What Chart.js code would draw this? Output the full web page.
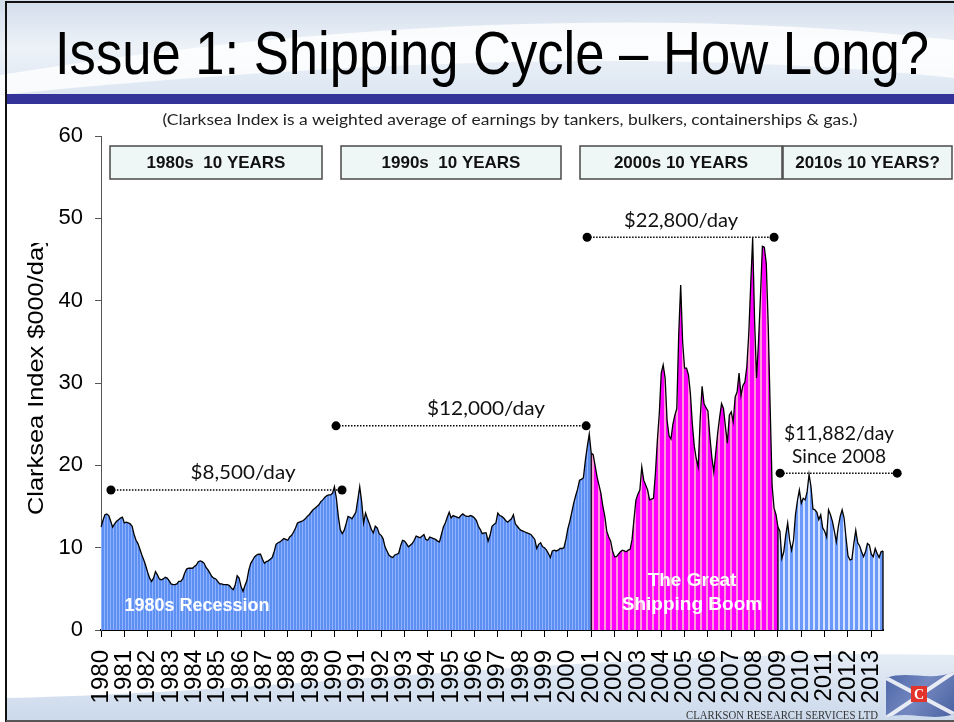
<!DOCTYPE html>
<html>
<head>
<meta charset="utf-8">
<script src="https://cdn.jsdelivr.net/npm/chart.js@4"></script>
<style>
  html, body { margin: 0; padding: 0; background: #fff; }
  #chart { display: block; }
</style>
</head>
<body>
<canvas id="chart" width="954" height="722"></canvas>
<script>
// Clarksea Index, $000/day, monthly from Jan 1980
const years = ['1980','1981','1982','1983','1984','1985','1986','1987','1988','1989',
               '1990','1991','1992','1993','1994','1995','1996','1997','1998','1999',
               '2000','2001','2002','2003','2004','2005','2006','2007','2008','2009',
               '2010','2011','2012','2013'];

const values1980s = [
  12.5,13.3,14.0,14.1,13.9,13.2,12.5,12.9,13.2,13.4,13.6,13.7,
  13.0,13.1,13.0,12.9,12.6,11.6,10.9,10.5,9.8,9.1,8.5,7.8,
  7.0,6.3,5.9,6.3,7.1,6.7,6.2,6.1,6.2,6.4,6.3,6.0,
  5.6,5.5,5.5,5.6,5.9,5.9,6.2,6.9,7.4,7.5,7.5,7.5,
  7.7,7.9,8.3,8.4,8.3,8.1,7.6,7.3,6.9,6.5,6.3,6.2,
  5.9,5.6,5.6,5.5,5.5,5.5,5.4,5.1,4.9,5.5,6.6,6.3,
  5.3,4.7,5.4,6.0,7.3,8.1,8.5,8.9,9.1,9.2,9.2,8.6,
  8.1,8.3,8.4,8.6,8.8,9.5,10.4,10.6,10.7,10.9,11.1,11.0,
  10.9,11.3,11.5,11.9,12.4,13.0,13.1,13.2,13.3,13.5,13.8,14.0,
  14.3,14.6,14.8,15.0,15.2,15.6,15.8,16.1,16.3,16.4,16.4,16.6
];
const values1990s = [
  17.4,16.0,13.8,12.2,11.7,12.1,12.9,13.8,13.7,13.5,13.9,14.3,
  15.8,17.4,15.6,13.0,14.2,13.5,12.9,12.2,11.8,12.6,12.4,11.7,
  11.5,11.1,10.1,9.6,9.1,8.9,8.8,9.1,9.2,9.3,10.2,10.9,
  10.8,10.5,10.1,10.3,10.5,10.9,11.4,11.3,11.2,11.4,11.6,11.0,
  10.9,11.3,11.2,11.1,11.0,10.8,10.7,11.6,12.5,13.0,13.7,14.3,
  13.6,13.9,13.8,13.7,13.6,13.9,14.1,13.9,13.8,13.8,13.9,13.8,
  13.6,13.3,12.6,12.2,11.7,11.8,11.8,10.8,11.5,12.6,12.8,13.0,
  14.2,13.9,13.8,13.6,13.3,13.1,13.3,13.5,14.0,12.9,12.6,12.3,
  12.1,12.0,11.9,11.8,11.7,11.6,11.3,11.0,9.9,10.4,10.6,10.1,
  10.0,9.7,9.3,8.8,9.6,9.7,9.6,9.7,9.9,9.9,10.0,11.0
];
const values2000s = [
  12.3,13.2,14.3,15.4,16.3,17.1,18.2,18.3,18.5,20.6,22.3,23.8,
  21.5,21.3,20.0,18.6,17.6,16.6,15.0,13.8,12.0,11.3,10.8,9.6,
  8.9,8.9,9.2,9.5,9.7,9.6,9.5,9.7,9.8,11.0,13.5,15.8,
  16.5,17.0,19.8,18.2,17.6,17.0,15.8,15.9,16.0,19.0,23.0,26.3,
  31.2,32.2,30.6,25.5,23.6,23.2,25.0,26.1,26.9,36.0,41.9,35.0,
  31.8,31.8,31.0,28.7,25.0,22.3,20.8,19.8,25.5,29.6,27.5,27.0,
  26.6,23.5,21.0,19.2,21.5,23.9,25.8,27.5,26.9,24.7,22.7,26.1,
  26.5,25.3,28.3,28.9,31.2,28.5,29.7,30.1,32.0,36.0,42.0,47.6,
  37.5,30.6,35.0,40.5,46.6,46.5,44.5,37.0,27.0,17.5,14.8,14.0,
  12.5,12.0,8.7,9.5,11.5,13.0,10.9,9.7,10.9,14.0,15.7,17.0
];
const values2010s = [
  15.4,16.0,15.8,16.8,18.9,17.4,14.7,14.6,14.3,13.4,14.0,12.4,
  12.0,11.3,14.6,14.0,13.2,12.0,10.7,12.5,13.8,14.6,13.6,11.2,
  9.0,8.5,8.6,10.5,12.1,10.6,10.2,9.5,8.9,9.5,10.5,10.3,
  9.2,8.9,9.9,9.3,8.8,9.5,9.6
];

const clarksea = [...values1980s, ...values1990s, ...values2000s, ...values2010s];
const monthNames = ['01','02','03','04','05','06','07','08','09','10','11','12'];
const months = years.flatMap(y => monthNames.map(m => y + '-' + m)).slice(0, clarksea.length);

// colour periods (month index where each one starts/ends)
const boomStart = 252;   // Jan 2001
const boomEnd = 348;     // Jan 2009

const decadeBoxes = ['1980s  10 YEARS', '1990s  10 YEARS', '2000s 10 YEARS', '2010s 10 YEARS?'];

// average lines: month index from/to, level in $000/day
const avgLines = [
  { text: ['$8,500/day'], from: 5.1, to: 123.9, level: 17.0, at: 73, width: [105] },
  { text: ['$12,000/day'], from: 120.8, to: 249.4, level: 24.8, at: 197.9, width: [118] },
  { text: ['$22,800/day'], from: 249.9, to: 346, level: 47.7, at: 298.2, width: [114] },
  { text: ['$11,882/day', 'Since 2008'], from: 349.1, to: 409.3, level: 19.05, at: 379.4, width: [110, 94] }
];

const FONT = 'Arial, "Liberation Sans", sans-serif';
const CAL = 'Lato, "Open Sans", sans-serif';

function stripes(dark, light, wDark, wLight) {
  const c = document.createElement('canvas');
  c.width = wDark + wLight; c.height = 4;
  const g = c.getContext('2d');
  g.fillStyle = dark; g.fillRect(0, 0, wDark, 4);
  g.fillStyle = light; g.fillRect(wDark, 0, wLight, 4);
  return g.createPattern(c, 'repeat');
}

function fitText(ctx, text, x, y, width, font, align) {
  ctx.save();
  ctx.font = font;
  const w = ctx.measureText(text).width;
  ctx.translate(x, y);
  ctx.scale(width / w, 1);
  ctx.textAlign = align || 'center';
  ctx.fillText(text, 0, 0);
  ctx.restore();
}

const slidePlugin = {
  id: 'slide',
  beforeDraw(chart) {
    const ctx = chart.ctx;
    ctx.save();
    // header swoosh
    let g = ctx.createLinearGradient(0, 0, 0, 95);
    g.addColorStop(0, '#d2ddeb');
    g.addColorStop(0.5, '#edf2f8');
    g.addColorStop(1, '#dce6f2');
    ctx.fillStyle = g;
    ctx.fillRect(0, 0, 954, 95);
    ctx.fillStyle = 'rgba(255,255,255,0.8)';
    ctx.beginPath();
    ctx.moveTo(0, 75);
    ctx.bezierCurveTo(300, 25, 650, 5, 954, 40);
    ctx.lineTo(954, 78);
    ctx.bezierCurveTo(650, 45, 300, 65, 0, 95);
    ctx.closePath();
    ctx.fill();
    // blue rule
    ctx.fillStyle = '#333399';
    ctx.fillRect(5, 94, 949, 10);
    // footer wave
    g = ctx.createLinearGradient(0, 650, 0, 722);
    g.addColorStop(0, '#e6edf6');
    g.addColorStop(1, '#cbd9eb');
    ctx.fillStyle = g;
    ctx.beginPath();
    ctx.moveTo(5, 722);
    ctx.lineTo(5, 698);
    ctx.bezierCurveTo(300, 692, 600, 648, 954, 655);
    ctx.lineTo(954, 722);
    ctx.closePath();
    ctx.fill();
    // slide frame
    ctx.strokeStyle = '#111';
    ctx.lineWidth = 2;
    ctx.beginPath();
    ctx.moveTo(6, 722); ctx.lineTo(6, 2); ctx.lineTo(954, 2);
    ctx.stroke();
    ctx.strokeStyle = '#555';
    ctx.beginPath();
    ctx.moveTo(6, 721); ctx.lineTo(954, 721);
    ctx.stroke();
    ctx.restore();
  },
  afterDatasetsDraw(chart) {
    const ctx = chart.ctx, xs = chart.scales.x, ys = chart.scales.y;
    ctx.save();
    ctx.strokeStyle = '#000';
    ctx.lineWidth = 1.3;
    [boomStart, boomEnd, clarksea.length - 1].forEach(i => {
      const x = xs.getPixelForValue(i);
      ctx.beginPath();
      ctx.moveTo(x, ys.getPixelForValue(clarksea[i]));
      ctx.lineTo(x, ys.getPixelForValue(0));
      ctx.stroke();
    });
    ctx.restore();
  },
  afterDraw(chart) {
    const ctx = chart.ctx, xs = chart.scales.x, ys = chart.scales.y;
    ctx.save();
    ctx.fillStyle = '#000';
    ctx.textBaseline = 'alphabetic';
    // title and subtitle
    fitText(ctx, 'Issue 1: Shipping Cycle \u2013 How Long?', 55, 74, 874, '61px ' + FONT, 'left');
    ctx.fillStyle = '#222';
    fitText(ctx, '(Clarksea Index is a weighted average of earnings by tankers, bulkers, containerships & gas.)',
      510, 125, 695, '15px ' + CAL);

    // decade boxes
    const boxX = [[110, 322], [341, 561], [580, 782], [783, 952]];
    decadeBoxes.forEach((t, i) => {
      const [a, b] = boxX[i];
      ctx.fillStyle = '#eef6f6';
      ctx.fillRect(a, 146, b - a, 33);
      ctx.strokeStyle = '#4a4a4a';
      ctx.lineWidth = 1.5;
      ctx.strokeRect(a, 146, b - a, 33);
      ctx.fillStyle = '#111';
      ctx.font = 'bold 17px ' + FONT;
      ctx.textAlign = 'center';
      ctx.textBaseline = 'middle';
      ctx.fillText(t, (a + b) / 2, 163);
    });

    // average lines
    avgLines.forEach(l => {
      const y = ys.getPixelForValue(l.level);
      const x1 = xs.getPixelForValue(l.from), x2 = xs.getPixelForValue(l.to);
      ctx.strokeStyle = '#000';
      ctx.lineWidth = 1.5;
      ctx.setLineDash([1.5, 1.5]);
      ctx.beginPath(); ctx.moveTo(x1, y); ctx.lineTo(x2, y); ctx.stroke();
      ctx.setLineDash([]);
      ctx.fillStyle = '#000';
      [x1, x2].forEach(x => { ctx.beginPath(); ctx.arc(x, y, 4.5, 0, Math.PI * 2); ctx.fill(); });
      const cx = xs.getPixelForValue(l.at);
      ctx.fillStyle = '#111';
      ctx.textBaseline = 'middle';
      const n = l.text.length;
      l.text.forEach((t, k) => {
        fitText(ctx, t, cx, y - 17 - (n - 1 - k) * 23, l.width[k], '20px ' + CAL);
      });
    });

    // period labels
    ctx.fillStyle = '#fff';
    ctx.font = 'bold 18px ' + FONT;
    ctx.textAlign = 'center';
    ctx.textBaseline = 'middle';
    ctx.fillText('1980s Recession', 197, 606);
    ctx.font = 'bold 19px ' + FONT;
    ctx.fillText('The Great', 692, 581);
    ctx.fillText('Shipping Boom', 692, 605);

    // y axis title (cut off at the top as in the slide)
    ctx.save();
    ctx.beginPath();
    ctx.rect(0, 243, 80, 400);
    ctx.clip();
    ctx.translate(37, 515);
    ctx.rotate(-Math.PI / 2);
    ctx.font = '22px ' + FONT;
    const s = 268 / ctx.measureText('Clarksea Index $000/da').width;
    ctx.scale(s, 1);
    ctx.fillStyle = '#000';
    ctx.textAlign = 'left';
    ctx.textBaseline = 'middle';
    ctx.fillText('Clarksea Index $000/day', 0, 0);
    ctx.restore();

    // footer
    ctx.fillStyle = '#333';
    ctx.textBaseline = 'alphabetic';
    fitText(ctx, 'CLARKSON RESEARCH SERVICES LTD', 686, 719, 192, '12px "Liberation Serif", serif', 'left');

    // logo flag
    const g = ctx.createLinearGradient(886, 672, 952, 718);
    g.addColorStop(0, '#4d66a8');
    g.addColorStop(0.5, '#7488c0');
    g.addColorStop(1, '#4a62a2');
    ctx.fillStyle = g;
    ctx.beginPath();
    ctx.moveTo(886, 678);
    ctx.bezierCurveTo(908, 670, 930, 682, 954, 672);
    ctx.lineTo(954, 714);
    ctx.bezierCurveTo(930, 722, 908, 710, 886, 718);
    ctx.closePath();
    ctx.fill();
    ctx.save();
    ctx.clip();
    ctx.strokeStyle = 'rgba(255,255,255,0.85)';
    ctx.lineWidth = 4;
    ctx.beginPath();
    ctx.moveTo(886, 678); ctx.lineTo(954, 714);
    ctx.moveTo(886, 718); ctx.lineTo(954, 672);
    ctx.stroke();
    ctx.restore();
    ctx.fillStyle = '#e3342c';
    ctx.fillRect(911, 686, 16, 16);
    ctx.fillStyle = '#fff';
    ctx.font = 'bold 14px "Liberation Serif", serif';
    ctx.textAlign = 'center';
    ctx.textBaseline = 'middle';
    ctx.fillText('C', 919, 695);
    ctx.restore();
  }
};

const blue80s = stripes('#5d8ff2', '#8fb3ff', 2, 1);
const boomPink = stripes('#ff00ff', '#ff9ad8', 4, 2);
const blue10s = stripes('#6b99fb', '#d4e3ff', 3, 2);

const part = (a, b) => clarksea.map((v, i) => (i >= a && i <= b ? v : null));

function areaSet(data, fillStyle) {
  return {
    data: data,
    fill: 'origin',
    backgroundColor: fillStyle,
    borderColor: '#000',
    borderWidth: 1.3,
    pointRadius: 0,
    tension: 0,
    spanGaps: false
  };
}

new Chart(document.getElementById('chart').getContext('2d'), {
  type: 'line',
  data: {
    labels: months,
    datasets: [
      areaSet(part(0, boomStart), blue80s),
      areaSet(part(boomStart, boomEnd), boomPink),
      areaSet(part(boomEnd, clarksea.length - 1), blue10s)
    ]
  },
  options: {
    responsive: false,
    animation: false,
    layout: { padding: { top: 136, right: 71, left: 0, bottom: 0 } },
    plugins: { legend: { display: false }, tooltip: { enabled: false } },
    scales: {
      x: {
        type: 'category',
        offset: false,
        grid: { display: true, drawOnChartArea: false, tickLength: 7, tickColor: '#000', tickWidth: 1 },
        border: { color: '#000', width: 2 },
        ticks: {
          autoSkip: false,
          minRotation: 90,
          maxRotation: 90,
          padding: 13,
          color: '#000',
          font: { family: FONT, size: 24 },
          callback: function (v) {
            const l = this.getLabelForValue(v);
            return l.endsWith('-01') ? l.slice(0, 4) : null;
          }
        },
        afterFit: s => { s.height = 92; }
      },
      y: {
        min: 0,
        max: 60,
        grid: { drawOnChartArea: false, tickLength: 6, tickColor: '#555' },
        border: { color: '#555', width: 1 },
        ticks: { stepSize: 10, padding: 12, color: '#000', font: { family: FONT, size: 22 } },
        afterFit: s => { s.width = 101; }
      }
    }
  },
  plugins: [slidePlugin]
});
</script>
</body>
</html>
